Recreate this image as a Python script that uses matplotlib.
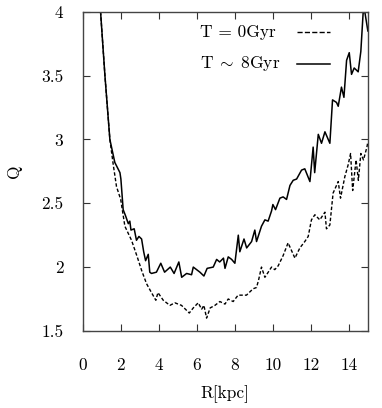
import matplotlib
matplotlib.use('Agg')
import matplotlib.pyplot as plt
from matplotlib.ticker import FuncFormatter

plt.rcParams['font.family'] = 'cmr10'
plt.rcParams['mathtext.fontset'] = 'cm'
plt.rcParams['axes.formatter.use_mathtext'] = True

# Q profile after ~8 Gyr (solid)
r_late = [0.93, 1.16, 1.42, 1.68, 1.95, 2.0, 2.12, 2.25, 2.39, 2.47, 2.53, 2.7, 2.82, 2.95,
          3.09, 3.2, 3.3, 3.44, 3.52, 3.61, 3.87, 4.1, 4.3, 4.6, 4.8, 5.05, 5.2, 5.46,
          5.72, 5.81, 6.16, 6.37, 6.54, 6.86, 7.04, 7.2, 7.4, 7.48, 7.65, 7.83, 8.0,
          8.18, 8.26, 8.48, 8.62, 8.88, 9.05, 9.14, 9.4, 9.58, 9.75, 9.93, 10.0, 10.14,
          10.37, 10.54, 10.72, 10.9, 11.07, 11.25, 11.51, 11.68, 11.95, 12.12, 12.2,
          12.39, 12.56, 12.74, 13.0, 13.14, 13.35, 13.44, 13.61, 13.74, 13.88, 14.02,
          14.14, 14.28, 14.49, 14.63, 14.75, 14.84, 15.0]
q_late = [4.0, 3.5, 3.0, 2.82, 2.74, 2.69, 2.45, 2.40, 2.34, 2.36, 2.29, 2.30, 2.21, 2.24,
          2.22, 2.12, 2.05, 2.10, 1.96, 1.95, 1.96, 2.03, 1.96, 2.0, 1.95, 2.04, 1.92, 1.95,
          1.94, 2.0, 1.96, 1.93, 1.99, 2.0, 2.06, 2.04, 2.07, 1.99, 2.08, 2.06, 2.03,
          2.25, 2.12, 2.22, 2.15, 2.2, 2.29, 2.2, 2.32, 2.37, 2.36, 2.44, 2.49, 2.45,
          2.54, 2.55, 2.53, 2.64, 2.68, 2.69, 2.76, 2.77, 2.67, 2.94, 2.74,
          3.04, 2.97, 3.06, 2.97, 3.31, 3.29, 3.26, 3.41, 3.33, 3.62, 3.68,
          3.51, 3.56, 3.53, 3.69, 3.99, 4.0, 3.85]

# initial Q profile (dashed)
r_init = [0.93, 1.16, 1.42, 1.6, 1.77, 1.99, 2.21, 2.56, 2.86, 3.1, 3.35, 3.61, 3.84, 3.95,
          4.23, 4.58, 4.84, 5.19, 5.6, 5.81, 6.07, 6.25, 6.37, 6.51, 6.7, 6.95, 7.21, 7.48,
          7.65, 7.91, 8.17, 8.61, 8.96, 9.14, 9.25, 9.4, 9.58, 9.93, 10.1, 10.28, 10.54,
          10.8, 11.16, 11.42, 11.68, 11.86, 12.03, 12.21, 12.47, 12.74, 12.82, 13.0,
          13.17, 13.44, 13.56, 13.79, 13.96, 14.09, 14.2, 14.38, 14.5, 14.63, 14.77,
          14.95, 15.0]
q_init = [4.0, 3.5, 3.0, 2.8, 2.63, 2.53, 2.32, 2.21, 2.08, 1.97, 1.87, 1.80, 1.74, 1.80,
          1.74, 1.70, 1.72, 1.70, 1.64, 1.68, 1.72, 1.67, 1.70, 1.60, 1.68, 1.70, 1.73, 1.71,
          1.75, 1.73, 1.78, 1.78, 1.83, 1.84, 1.90, 2.0, 1.92, 2.0, 1.98, 2.01, 2.09,
          2.19, 2.07, 2.15, 2.2, 2.24, 2.37, 2.41, 2.37, 2.43, 2.30, 2.33,
          2.58, 2.67, 2.54, 2.71, 2.80, 2.89, 2.60, 2.84, 2.68, 2.89, 2.84,
          2.94, 2.98]

labels = ['T = 0Gyr', r'T$\;\sim\;$8Gyr']
x_ticks = [0, 2, 4, 6, 8, 10, 12, 14]
y_ticks = [1.5, 2, 2.5, 3, 3.5, 4]

fig = plt.figure(figsize=(3.82, 4.08), dpi=100)
ax = fig.add_axes([0.217, 0.189, 0.746, 0.782])

l1, = ax.plot(r_init, q_init, color='black', lw=1.0, dashes=(2.5, 1.5))
l2, = ax.plot(r_late, q_late, color='black', lw=1.1)

# gnuplot-style key: left-aligned text, sample line on the right
for i, (line, lab) in enumerate(zip([l1, l2], labels)):
    yk = 0.937 - 0.1 * i
    ax.text(0.41, yk, lab, transform=ax.transAxes, fontsize=12.5, va='center', ha='left')
    ax.plot([0.751, 0.867], [yk, yk], transform=ax.transAxes, color='black',
            lw=line.get_linewidth(), linestyle=line.get_linestyle())

ax.set_xlim(0, 15)
ax.set_ylim(1.5, 4)
ax.set_xticks(x_ticks)
ax.set_yticks(y_ticks)
ax.xaxis.set_major_formatter(FuncFormatter(lambda v, p: '%g' % v))
ax.yaxis.set_major_formatter(FuncFormatter(lambda v, p: '%g' % v))
ax.tick_params(direction='in', length=5, width=0.8, top=True, right=True,
               labelsize=12.5, color='#333333')
ax.tick_params(axis='x', pad=19)
ax.tick_params(axis='y', pad=14)
for s in ax.spines.values():
    s.set_color('#444444')
    s.set_linewidth(1.0)

ax.set_xlabel('R[kpc]', fontsize=12.5, labelpad=9)
ax.set_ylabel('Q', fontsize=12.5, labelpad=14)

fig.savefig('out.png', dpi=100)
